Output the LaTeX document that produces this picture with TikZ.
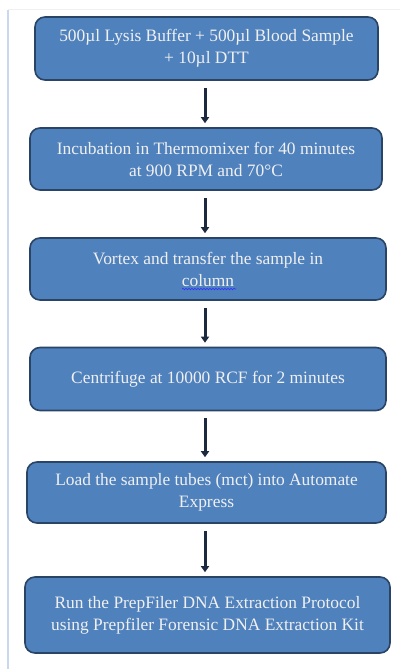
\documentclass[tikz,border=0pt]{standalone}
\usepackage{fontspec}
\setmainfont{Liberation Serif}
\usetikzlibrary{arrows.meta,decorations.pathmorphing}
\definecolor{boxfill}{HTML}{4F81BD}
\definecolor{boxline}{HTML}{2A4466}
\definecolor{arrowc}{HTML}{1C2A40}
\definecolor{framec}{HTML}{C9D8EE}
\tikzset{
  stepbox/.style={draw=boxline, line width=1.6pt, fill=boxfill, rounded corners=10pt,
    text=white!94!black, align=center, font=\fontsize{17.4}{22}\selectfont, inner sep=0pt},
  flow/.style={draw=arrowc, line width=3pt, -{Triangle[length=6pt,width=8pt]}}
}
\begin{document}
\begin{tikzpicture}[x=1pt,y=-1pt]
\useasboundingbox (0,0) rectangle (400,669);
\fill[white] (0,0) rectangle (400,669);
\draw[framec, line width=2pt] (8,10) -- (8,669);
\draw[black!6, line width=1pt] (8,10) -- (400,10);
\node[stepbox, minimum width=343pt, minimum height=63pt] (b1) at (206.5,48.5)
  {500µl Lysis Buffer + 500µl Blood Sample\\+ 10µl DTT};
\node[stepbox, minimum width=352pt, minimum height=62pt] (b2) at (206,159)
  {Incubation in Thermomixer for 40 minutes\\at 900 RPM and 70°C};
\node[stepbox, minimum width=356pt, minimum height=62pt] (b3) at (208,269)
  {Vortex and transfer the sample in\\column};
\node[stepbox, minimum width=356pt, minimum height=63pt] (b4) at (208,379)
  {Centrifuge at 10000 RCF for 2 minutes};
\node[stepbox, minimum width=359pt, minimum height=61pt] (b5) at (206.5,492.5)
  {Load the sample tubes (mct) into Automate\\Express};
\node[stepbox, minimum width=365pt, minimum height=76pt] (b6) at (207.5,615)
  {Run the PrepFiler DNA Extraction Protocol\\using Prepfiler Forensic DNA Extraction Kit};
\draw[blue!80!white, line width=0.6pt, decorate, decoration={snake, amplitude=0.8pt, segment length=3pt}]
  (182,289) -- (236,289);
\foreach \a/\b in {b1/b2,b2/b3,b3/b4,b4/b5,b5/b6}{
  \draw[flow] ([yshift=-7pt]\a.south -| 205,0) -- ([yshift=4pt]\b.north -| 205,0);
}
\end{tikzpicture}
\end{document}
